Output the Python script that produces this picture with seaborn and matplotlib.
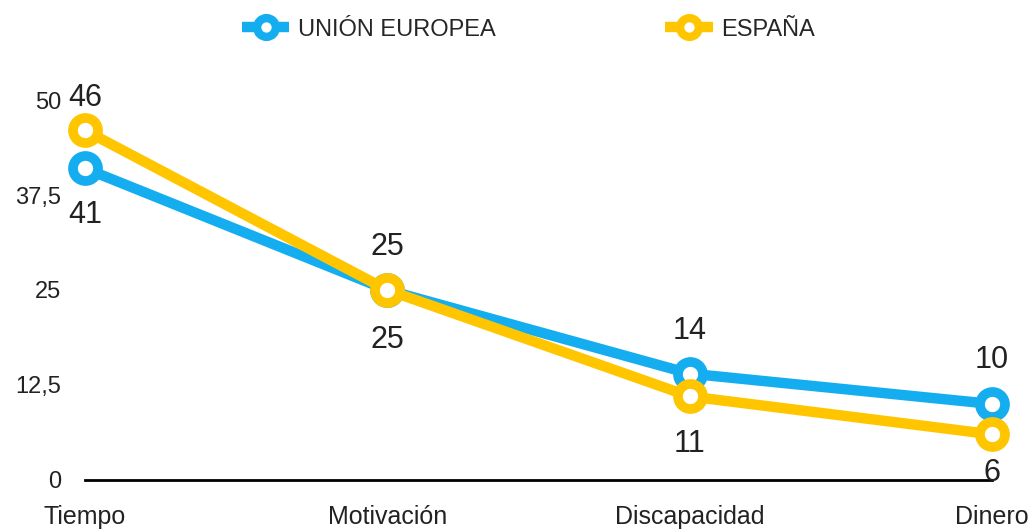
import pandas as pd
import matplotlib.pyplot as plt
import seaborn as sns

# Datos
categorias = ['Tiempo', 'Motivación', 'Discapacidad', 'Dinero']
ue = [41, 25, 14, 10]
espana = [46, 25, 11, 6]
series = ['UNIÓN EUROPEA', 'ESPAÑA']
yticks = [0, 12.5, 25, 37.5, 50]
ytick_labels = ['0', '12,5', '25', '37,5', '50']

df = pd.DataFrame({
    'pos': list(range(len(categorias))) * 2,
    'valor': ue + espana,
    'serie': [series[0]] * len(ue) + [series[1]] * len(espana),
})

sns.set_style('white')
plt.rcParams['font.family'] = ['Liberation Sans', 'DejaVu Sans']

colores = {series[0]: '#14AEF0', series[1]: '#FFC600'}

fig = plt.figure(figsize=(10.31, 5.30), dpi=100)
ax = fig.add_axes([85 / 1031, 50 / 530, (992 - 85) / 1031, 380 / 530])

sns.lineplot(data=df, x='pos', y='valor', hue='serie', palette=colores,
             marker='o', markersize=18, linewidth=7.5, legend=False, ax=ax,
             clip_on=False)
for line in ax.lines:
    line.set_markeredgecolor(line.get_color())
    line.set_markerfacecolor('white')
    line.set_markeredgewidth(7)
    line.set_solid_capstyle('butt')

ax.set_xlim(0, 3)
ax.set_ylim(0, 50)
ax.set_xticks(range(len(categorias)))
ax.set_xticklabels(categorias, fontsize=18, color='#222222')
ax.set_yticks(yticks)
ax.set_yticklabels(ytick_labels, fontsize=17, color='#222222')
ax.tick_params(axis='x', length=0, pad=18)
ax.tick_params(axis='y', length=0, pad=17)
ax.set_xlabel('')
ax.set_ylabel('')
for s in ['top', 'right', 'left']:
    ax.spines[s].set_visible(False)
ax.spines['bottom'].set_color('black')
ax.spines['bottom'].set_linewidth(2)

# Etiquetas de valores
off_ue = [-47, -50, 43, 44]
off_es = [32, 43, -48, -39]
for i, (a, b) in enumerate(zip(ue, espana)):
    ax.annotate(str(a), (i, a), xytext=(0, off_ue[i]), textcoords='offset pixels',
                ha='center', va='center', fontsize=22, color='#222222')
    ax.annotate(str(b), (i, b), xytext=(0, off_es[i]), textcoords='offset pixels',
                ha='center', va='center', fontsize=22, color='#222222')

leg = fig.legend(handles=ax.lines[:2], labels=series, loc='center',
                 bbox_to_anchor=(0.5126, 0.944), ncol=2, frameon=False,
                 fontsize=17, handlelength=2.0, columnspacing=7.2,
                 handletextpad=0.35, markerscale=0.75)
for h in leg.legend_handles:
    h.set_linewidth(7.5)
    h.set_markeredgewidth(6)

fig.savefig('out.png', dpi=100)
